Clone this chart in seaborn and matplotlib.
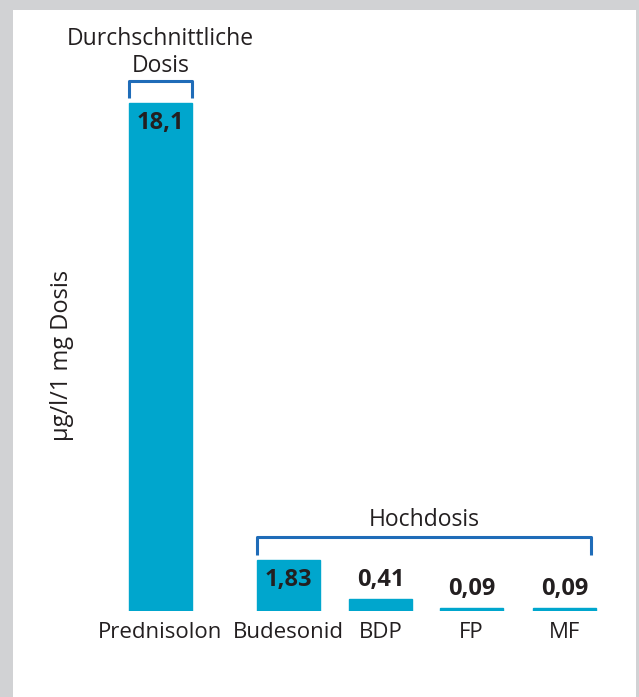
import matplotlib
matplotlib.use("Agg")
import matplotlib.pyplot as plt
import seaborn as sns
import numpy as np
from matplotlib.patches import Rectangle

# data
drugs = ["Prednisolon", "Budesonid", "BDP", "FP", "MF"]
values = [18.1, 1.83, 0.41, 0.09, 0.09]
value_labels = ["18,1", "1,83", "0,41", "0,09", "0,09"]
positions = [0, 1.39, 2.39, 3.38, 4.39]

bar_color = "#00a6cd"
bracket_color = "#1f6cb8"
text_color = "#231f20"

sns.set_theme(style="white")
plt.rcParams['font.family'] = ['Open Sans', 'DejaVu Sans']

fig = plt.figure(figsize=(6.39, 6.97), dpi=100)
fig.patch.set_facecolor("#d1d2d4")
W, H = 639, 697
fig.patches.append(Rectangle((13 / W, 0), 623 / W, 687 / H, transform=fig.transFigure,
                             facecolor="white", edgecolor="none", zorder=-10))

ax = fig.add_axes([13 / W, 86 / H, 623 / W, 601 / H])
ax.set_facecolor("none")
ax.set_zorder(5)

sns.barplot(x=positions, y=values, native_scale=True, color=bar_color,
            saturation=1, width=0.70, edgecolor=bar_color, linewidth=1, ax=ax)

ax.set_xlim(-1.603, 5.168)
ax.set_ylim(0, 21.41)
sns.despine(ax=ax, left=True, bottom=True)
ax.set_yticks([])
ax.set_xticks(positions)
ax.set_xticklabels(drugs, fontsize=16, color=text_color)
ax.tick_params(axis="x", length=0, pad=8)
ax.set_xlabel("")
ax.set_ylabel("")

fig.text(62 / W, 1 - 355 / H, "µg/l/1 mg Dosis", rotation=90, ha="center", va="center",
         fontsize=17, color=text_color, zorder=6)

# value labels
for p, v, lab in zip(positions, values, value_labels):
    if v > 1:
        ax.text(p, v - 0.3, lab, ha="center", va="top", fontsize=17,
                fontweight="bold", color=text_color)
    else:
        ax.text(p, v + 0.27, lab, ha="center", va="bottom", fontsize=17,
                fontweight="bold", color=text_color)

# brackets
half = 0.345
x0, x1 = positions[0] - half, positions[0] + half
ax.plot([x0, x0, x1, x1], [18.28, 18.88, 18.88, 18.28], color=bracket_color, lw=2.2,
        solid_capstyle="butt", clip_on=False)
ax.text(positions[0], 18.98, "Durchschnittliche\nDosis", ha="center", va="bottom",
        fontsize=16.5, color=text_color, linespacing=1.2)

h0, h1 = positions[1] - 0.34, positions[4] + 0.29
ax.plot([h0, h0, h1, h1], [1.995, 2.636, 2.636, 1.995], color=bracket_color, lw=2.2,
        solid_capstyle="butt", clip_on=False)
ax.text((h0 + h1) / 2, 2.8, "Hochdosis", ha="center", va="bottom",
        fontsize=16.5, color=text_color)

fig.savefig("out.png", dpi=100, facecolor=fig.get_facecolor())
